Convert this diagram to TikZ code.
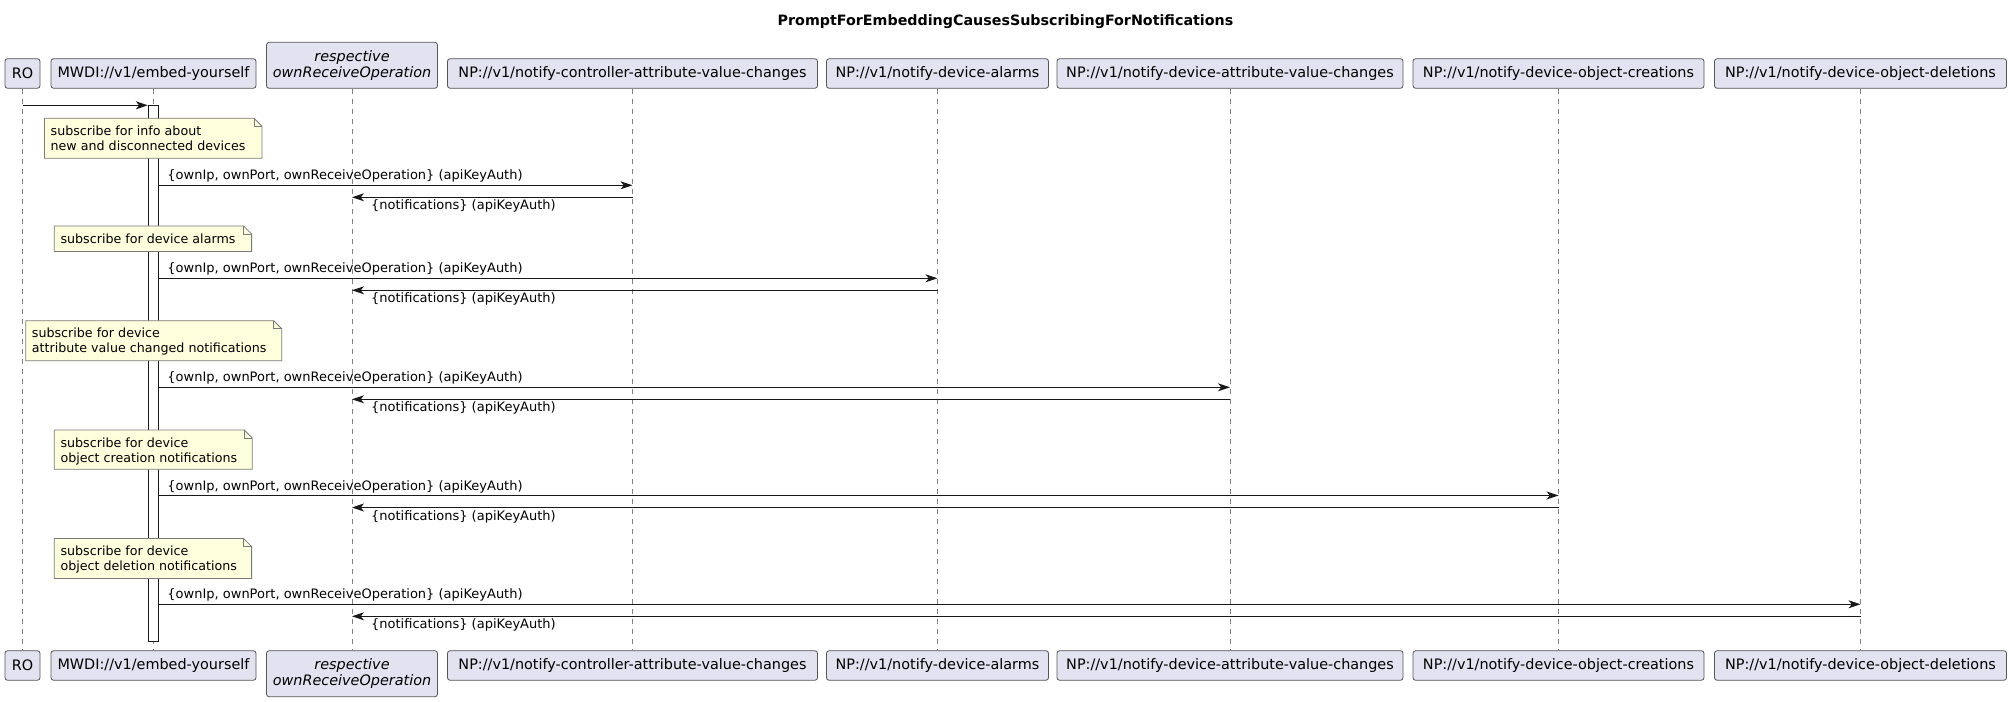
\documentclass[tikz,border=0pt]{standalone}
\usepackage{fontspec}
\setmainfont{DejaVu Sans}
\usepackage{tikz}
\usetikzlibrary{arrows.meta,positioning}

\definecolor{boxfill}{HTML}{E2E2F0}
\definecolor{notefill}{HTML}{FEFFDD}
\definecolor{linec}{HTML}{181818}
\definecolor{boxline}{HTML}{555555}
\definecolor{lifec}{HTML}{808080}
\definecolor{noteline}{HTML}{7A7A7A}

\newcommand{\partfont}{\fontsize{10.8}{12.25}\selectfont}
\newcommand{\msgfont}{\fontsize{9.75}{11.25}\selectfont}
\newcommand{\notefont}{\fontsize{9.5}{11.25}\selectfont}

% note with folded corner: name, x1, y1, x2, y2, text
\newcommand{\notebox}[6]{%
  \draw[subnote] (#2,#3) -- (#4-8,#3) -- (#4,#3+8) -- (#4,#5) -- (#2,#5) -- cycle;
  \draw[subnote,fill=none] (#4-8,#3) -- (#4-8,#3+8) -- (#4,#3+8);
  \node[notetext] (#1) at (#2+6,#3+7.4) {#6};}

\tikzset{
  part/.style={draw=boxline, fill=boxfill, rounded corners=2pt, line width=0.6pt,
    inner sep=0pt, minimum height=22.2pt, font=\partfont, align=center},
  life/.style={draw=lifec, line width=0.7pt, dash pattern=on 3.75pt off 3.75pt},
  actbar/.style={draw=linec, fill=white, line width=0.7pt, minimum width=7.65pt,
    minimum height=402pt, inner sep=0pt},
  msg/.style={line width=0.75pt, -{Stealth[length=9pt,width=6pt,inset=2.5pt]},
    every edge/.append style={draw=linec}},
  reqlbl/.style={at start, anchor=base west, font=\msgfont, inner sep=0pt, xshift=6pt, yshift=4pt},
  resplbl/.style={at end, anchor=base west, font=\msgfont, inner sep=0pt, xshift=14pt, yshift=-9.5pt},
  subnote/.style={draw=noteline, fill=notefill, line width=0.6pt},
  notetext/.style={anchor=north west, align=left, inner sep=0pt, font=\notefont}
}

\begin{document}
\begin{tikzpicture}[x=0.75pt,y=-0.75pt]
   \path[use as bounding box, fill=white] (0,0) rectangle (2011,702);
   \node[font=\fontsize{10.7}{12}\selectfont\bfseries] (title) at (1005.5,22)
     {PromptForEmbeddingCausesSubscribingForNotifications};

   % participants, top
   \node[part, minimum width=26.25pt] (ro) at (22.5,73.5) {RO};
   \node[part, minimum width=153.75pt] (mwdi) at (153.5,73.5) {MWDI://v1/embed-yourself};
   \node[part, minimum width=128.25pt, minimum height=34.5pt] (respop) at (352,65.3)
     {\itshape respective\\\itshape ownReceiveOperation};
   \node[part, minimum width=277.5pt] (ctrl) at (632.5,73.5) {NP://v1/notify-controller-attribute-value-changes};
   \node[part, minimum width=166.5pt] (alarms) at (937.5,73.5) {NP://v1/notify-device-alarms};
   \node[part, minimum width=259.5pt] (devattr) at (1230,73.5) {NP://v1/notify-device-attribute-value-changes};
   \node[part, minimum width=218.25pt] (creations) at (1558.5,73.5) {NP://v1/notify-device-object-creations};
   \node[part, minimum width=219pt] (deletions) at (1860.5,73.5) {NP://v1/notify-device-object-deletions};

   % participants, bottom
   \node[part, minimum width=26.25pt] (ro-b) at (22.5,665.5) {RO};
   \node[part, minimum width=153.75pt] (mwdi-b) at (153.5,665.5) {MWDI://v1/embed-yourself};
   \node[part, minimum width=128.25pt, minimum height=34.5pt] (respop-b) at (352,673.7)
     {\itshape respective\\\itshape ownReceiveOperation};
   \node[part, minimum width=277.5pt] (ctrl-b) at (632.5,665.5) {NP://v1/notify-controller-attribute-value-changes};
   \node[part, minimum width=166.5pt] (alarms-b) at (937.5,665.5) {NP://v1/notify-device-alarms};
   \node[part, minimum width=259.5pt] (devattr-b) at (1230,665.5) {NP://v1/notify-device-attribute-value-changes};
   \node[part, minimum width=218.25pt] (creations-b) at (1558.5,665.5) {NP://v1/notify-device-object-creations};
   \node[part, minimum width=219pt] (deletions-b) at (1860.5,665.5) {NP://v1/notify-device-object-deletions};

   % lifelines
   \draw[life] (ro) -- (ro-b);
   \draw[life] (mwdi) -- (mwdi-b);
   \draw[life] (respop) -- (respop-b);
   \draw[life] (ctrl) -- (ctrl-b);
   \draw[life] (alarms) -- (alarms-b);
   \draw[life] (devattr) -- (devattr-b);
   \draw[life] (creations) -- (creations-b);
   \draw[life] (deletions) -- (deletions-b);

   \node[actbar] (act) at (153.4,373.2) {};

   % message rows
   \coordinate (m0) at (0,105.3);
   \coordinate (m1) at (0,185.3);
   \coordinate (r1) at (0,197.3);
   \coordinate (m2) at (0,278.3);
   \coordinate (r2) at (0,290.3);
   \coordinate (m3) at (0,387.3);
   \coordinate (r3) at (0,399.3);
   \coordinate (m4) at (0,495.5);
   \coordinate (r4) at (0,507.5);
   \coordinate (m5) at (0,604.3);
   \coordinate (r5) at (0,616.3);

   \path[msg] (ro |- m0) edge (act.west |- m0);

   \notebox{n1}{44.4}{118.3}{262}{158.3}{subscribe for info about\\new and disconnected devices}
   \notebox{n2}{54.3}{226}{251.6}{251.5}{subscribe for device alarms}
   \notebox{n3}{25.7}{320.7}{281.7}{360.7}{subscribe for device\\attribute value changed notifications}
   \notebox{n4}{54.3}{430}{252.3}{469.3}{subscribe for device\\object creation notifications}
   \notebox{n5}{54.3}{538.5}{251.6}{578.5}{subscribe for device\\object deletion notifications}

    \path[msg]
    (act.east |- m1) edge node[reqlbl] {\{ownIp, ownPort, ownReceiveOperation\} (apiKeyAuth)} (ctrl |- m1)
    (ctrl |- r1) edge node[resplbl] {\{notifications\} (apiKeyAuth)} (respop |- r1)
    (act.east |- m2) edge node[reqlbl] {\{ownIp, ownPort, ownReceiveOperation\} (apiKeyAuth)} (alarms |- m2)
    (alarms |- r2) edge node[resplbl] {\{notifications\} (apiKeyAuth)} (respop |- r2)
    (act.east |- m3) edge node[reqlbl] {\{ownIp, ownPort, ownReceiveOperation\} (apiKeyAuth)} (devattr |- m3)
    (devattr |- r3) edge node[resplbl] {\{notifications\} (apiKeyAuth)} (respop |- r3)
    (act.east |- m4) edge node[reqlbl] {\{ownIp, ownPort, ownReceiveOperation\} (apiKeyAuth)} (creations |- m4)
    (creations |- r4) edge node[resplbl] {\{notifications\} (apiKeyAuth)} (respop |- r4)
    (act.east |- m5) edge node[reqlbl] {\{ownIp, ownPort, ownReceiveOperation\} (apiKeyAuth)} (deletions |- m5)
    (deletions |- r5) edge node[resplbl] {\{notifications\} (apiKeyAuth)} (respop |- r5);
\end{tikzpicture}
\end{document}
